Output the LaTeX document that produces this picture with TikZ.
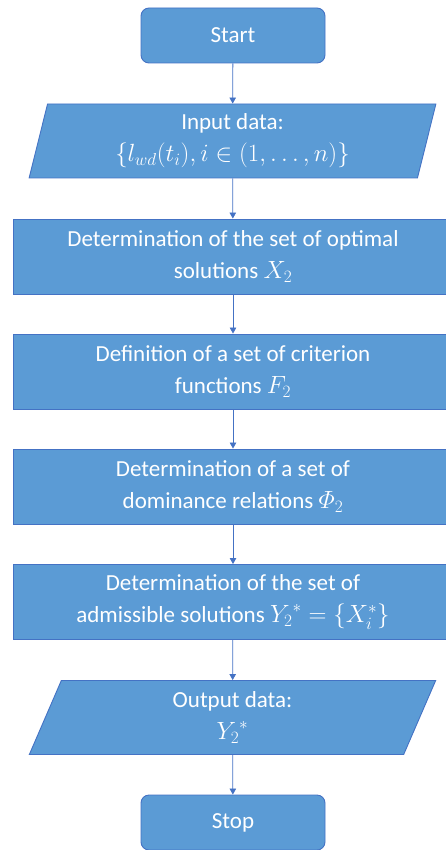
\documentclass[tikz,border=0pt]{standalone}
\usepackage{amsmath}
\usepackage{fontspec}
\setmainfont{Carlito}
\usetikzlibrary{shapes.geometric,arrows.meta}
\definecolor{boxfill}{HTML}{5B9BD5}
\definecolor{boxline}{HTML}{4472C4}
\begin{document}
\begin{tikzpicture}[x=1pt,y=-1pt,
  base/.style={fill=boxfill,draw=boxline,line width=0.9pt,text=white,align=center,
    font=\fontsize{23}{32}\selectfont,inner sep=0pt},
  term/.style={base,rounded corners=8pt,minimum width=184pt,minimum height=55pt},
  proc/.style={base,minimum width=440pt,minimum height=75pt},
  io/.style={base,trapezium,trapezium left angle=77.8,trapezium right angle=102.2,
    trapezium stretches=true,minimum width=407pt,minimum height=74pt},
  flow/.style={draw=boxline,line width=0.8pt,-{Triangle[width=6.5pt,length=6pt]}}]
\useasboundingbox (0,0) rectangle (446,850);
\node[term] (start) at (233,35.5) {Start};
\node[io] (input) at (232.5,141) {Input data:\\$\{l_{wd}(t_i), i \in (1,\dots,n)\}$};
\node[proc] (opt) at (233,256.5) {Determination of the set of optimal\\solutions $X_2$};
\node[proc] (crit) at (233,371.5) {Definition of a set of criterion\\functions $F_2$};
\node[proc] (dom) at (233,486.5) {Determination of a set of\\dominance relations $\varPhi_2$};
\node[proc] (adm) at (233,602) {Determination of the set of\\admissible solutions ${Y_2}^* = \{X_i^*\}$};
\node[io] (output) at (232.5,717.5) {Output data:\\${Y_2}^*$};
\node[term] (stop) at (233,822.5) {Stop};
\draw[flow] (start) -- (input);
\draw[flow] (input) -- (opt);
\draw[flow] (opt) -- (crit);
\draw[flow] (crit) -- (dom);
\draw[flow] (dom) -- (adm);
\draw[flow] (adm) -- (output);
\draw[flow] (output) -- (stop);
\end{tikzpicture}
\end{document}
